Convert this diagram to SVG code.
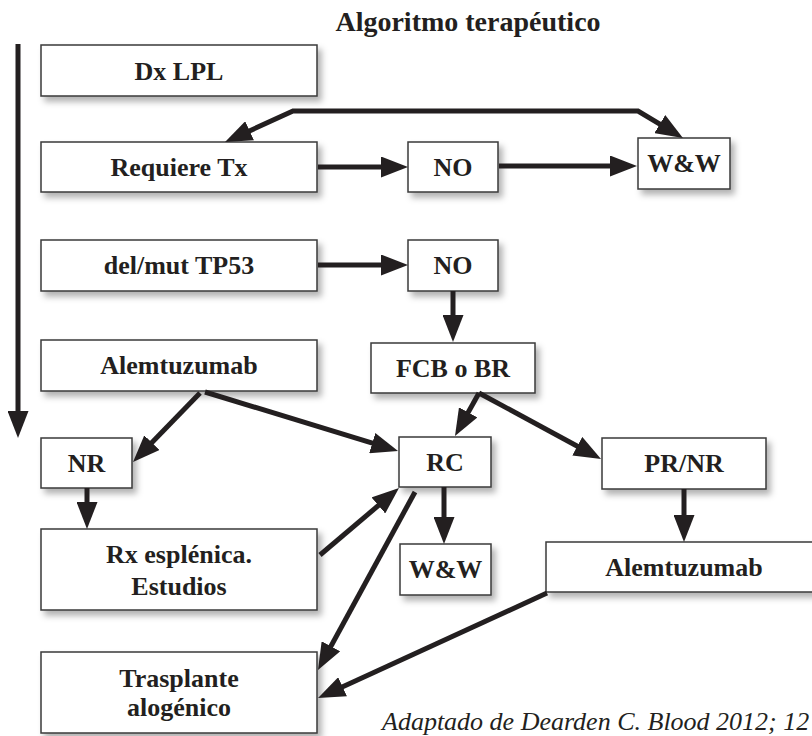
<svg xmlns="http://www.w3.org/2000/svg" width="812" height="736" viewBox="0 0 812 736">
<defs>
<filter id="sh" x="-10%" y="-20%" width="130%" height="160%">
<feDropShadow dx="4" dy="5" stdDeviation="3" flood-color="#000" flood-opacity="0.3"/>
</filter>
<marker id="ah" markerUnits="userSpaceOnUse" markerWidth="27" markerHeight="21" viewBox="0 0 27 21" refX="19" refY="10.5" orient="auto-start-reverse">
<path d="M0,0 L27,10.5 L0,21 z" fill="#231f20"/>
</marker>
<style>
.t{font-family:'Times New Roman',Times,'Liberation Serif',Tinos,'Nimbus Roman','FreeSerif','DejaVu Serif',serif;fill:#231f20}
.b rect{fill:#fff;stroke:#3a3a3a;stroke-width:1.5;filter:url(#sh)}
.b text{font-family:'Times New Roman',Times,'Liberation Serif',Tinos,'Nimbus Roman','FreeSerif','DejaVu Serif',serif;font-weight:bold;font-size:26px;fill:#231f20;text-anchor:middle}
.c path,.c line{fill:none;stroke:#231f20;stroke-width:5;marker-end:url(#ah)}
</style>
</defs>
<rect width="812" height="736" fill="#fff"/>
<text class="t" x="468" y="31" font-weight="bold" font-size="28" text-anchor="middle">Algoritmo terapéutico</text>

<g id="dxlpl" class="b"><rect x="41" y="45" width="276" height="51"/><text x="179" y="80">Dx LPL</text></g>
<g id="requiere" class="b"><rect x="41" y="142" width="276" height="50"/><text x="179" y="176">Requiere Tx</text></g>
<g id="delmut" class="b"><rect x="41" y="240" width="276" height="51"/><text x="179" y="274">del/mut TP53</text></g>
<g id="alem1" class="b"><rect x="41" y="340" width="276" height="51"/><text x="179" y="374">Alemtuzumab</text></g>
<g id="nr" class="b"><rect x="41" y="438" width="91" height="50"/><text x="86.5" y="472">NR</text></g>
<g id="rx" class="b"><rect x="41" y="529" width="276" height="81"/><text x="179" y="563">Rx esplénica.</text><text x="179" y="595">Estudios</text></g>
<g id="trasplante" class="b"><rect x="41" y="652" width="276" height="81"/><text x="179" y="687">Trasplante</text><text x="179" y="716">alogénico</text></g>
<g id="no1" class="b"><rect x="408" y="142" width="90" height="50"/><text x="453" y="176">NO</text></g>
<g id="ww1" class="b"><rect x="638" y="138" width="92" height="51"/><text x="684" y="172">W&amp;W</text></g>
<g id="no2" class="b"><rect x="408" y="240" width="90" height="51"/><text x="453" y="274">NO</text></g>
<g id="fcb" class="b"><rect x="371" y="343" width="164" height="50"/><text x="453" y="377">FCB o BR</text></g>
<g id="rc" class="b"><rect x="399" y="437" width="92" height="50"/><text x="445" y="471">RC</text></g>
<g id="ww2" class="b"><rect x="400" y="544" width="91" height="51"/><text x="445.5" y="578">W&amp;W</text></g>
<g id="prnr" class="b"><rect x="602" y="438" width="164" height="51"/><text x="684" y="472">PR/NR</text></g>
<g id="alem2" class="b"><rect x="546" y="542" width="276" height="50"/><text x="684" y="576">Alemtuzumab</text></g>

<g id="connectors" class="c">
<line x1="18" y1="44" x2="18" y2="430"/>
<path d="M232.3,138.7 L293,111 L638,111 L676.1,133.9" style="marker-start:url(#ah)"/>
<line x1="318" y1="167" x2="400" y2="167"/>
<line x1="499" y1="166" x2="629" y2="166"/>
<line x1="318" y1="265" x2="400" y2="265"/>
<line x1="453" y1="291" x2="453" y2="334"/>
<line x1="200" y1="393" x2="138.6" y2="456.3"/>
<line x1="205" y1="392" x2="390.4" y2="448.7"/>
<line x1="479" y1="393" x2="458.9" y2="429"/>
<line x1="479" y1="393" x2="594" y2="455.2"/>
<line x1="87" y1="488" x2="87" y2="521"/>
<line x1="320" y1="555" x2="392.9" y2="493.2"/>
<line x1="415" y1="492" x2="321.8" y2="663"/>
<line x1="444" y1="487" x2="444" y2="536"/>
<line x1="684" y1="489" x2="684" y2="534"/>
<line x1="547" y1="593" x2="325.3" y2="694.7"/>
</g>

<text class="t" x="382" y="730" font-style="italic" font-size="26">Adaptado de Dearden C. Blood 2012; 12</text>
</svg>
